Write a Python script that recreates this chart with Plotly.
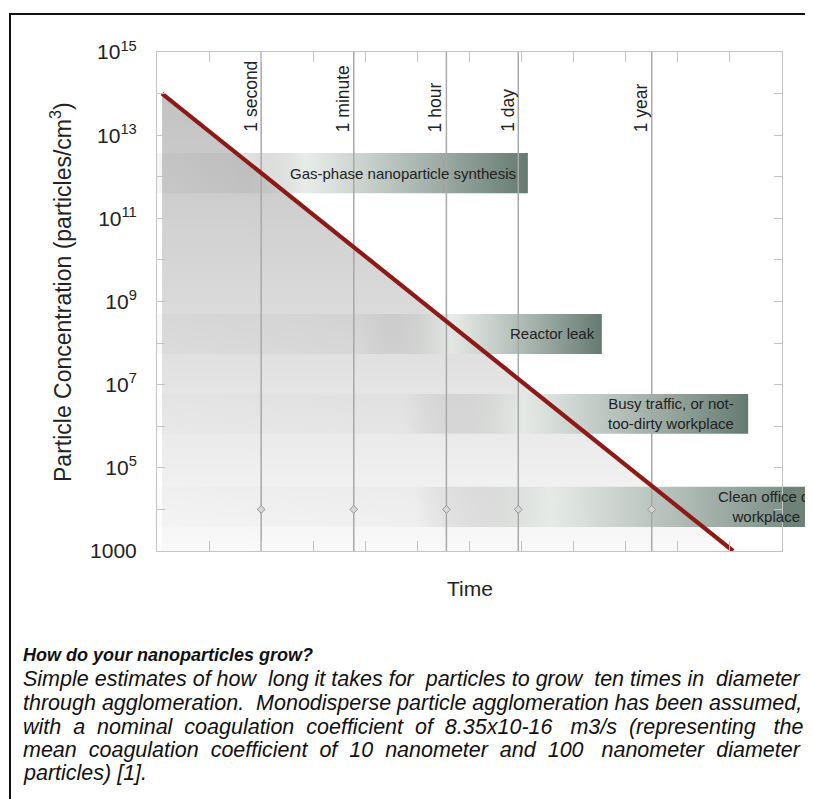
import math
import plotly.graph_objects as go

# ---------------- data ----------------
line_time = [0.0125, 1.15e9]            # seconds
line_conc = [1.0e14, 1.0e3]             # particles / cm3

marker_labels = ["1 second", "1 minute", "1 hour", "1 day", "1 year"]
marker_times = [1, 60, 3600, 86400, 31536000]
marker_dot_conc = 1.0e4

band_labels = [
    "Gas-phase nanoparticle synthesis",
    "Reactor leak",
    "Busy traffic, or not-<br>too-dirty workplace",
    "Clean office or<br>workplace",
]
band_low = [4.0e11, 5.5e7, 6.6e5, 3.8e3]
band_high = [3.7e12, 5.0e8, 6.0e6, 3.5e4]
band_start = [1.0e-2, 1.0e-2, 1.0e-2, 1.0e-2]
band_end = [1.32e5, 3.47e6, 2.24e9, 1.0e11]
band_label_time = [5.4e2, 4.0e5, 7.4e7, 4.9e9]

y_tick_exponents = list(range(3, 16))
y_tick_labels = ["1000", "", "10<sup>5</sup>", "", "10<sup>7</sup>", "", "10<sup>9</sup>", "",
                 "10<sup>11</sup>", "", "10<sup>13</sup>", "", "10<sup>15</sup>"]
x_tick_exponents = list(range(-2, 11))
x_range_exp = [-2, 10]
y_range_exp = [3, 15]

NB = "\u00a0"
caption_title = "How do your nanoparticles grow?"
caption_lines = [
    "Simple estimates of how" + NB + " long it takes for" + NB + " particles to grow" + NB
    + " ten times in" + NB + " diameter",
    "through agglomeration.  Monodisperse particle agglomeration has been assumed,",
    "with" + NB + " a" + NB + " nominal" + NB + " coagulation" + NB + " coefficient" + NB + " of" + NB
    + " 8.35x10-16" + NB + NB + " m3/s" + NB + " (representing" + NB + NB + " the",
    "mean" + NB + " coagulation" + NB + " coefficient" + NB + " of" + NB + " 10" + NB
    + " nanometer" + NB + " and" + NB + " 100" + NB + NB + " nanometer" + NB + " diameter",
    "particles) [1].",
]

# ---------------- styling ----------------
OFF = 8                       # default body margin of the page
W, H = 813 - OFF, 799 - OFF
ML, MR, MT, MB = 157 - OFF, 31, 52 - OFF, 248
PW, PH = W - ML - MR, H - MT - MB
FONT = "Liberation Sans, Arial, sans-serif"
band_light = [0.40, 0.66, 0.62, 0.58]
band_left_alpha = [0.20, 0.12, 0.06, 0.06]


def px_to_paper_x(px):
    return (px - OFF - ML) / PW


def px_to_paper_y(py):
    return (H + OFF - MB - py) / PH


fig = go.Figure()

# shaded triangle under the decay line
fig.add_trace(go.Scatter(
    x=line_time + [line_time[-1], line_time[0], line_time[0]],
    y=line_conc + [10 ** y_range_exp[0], 10 ** y_range_exp[0], line_conc[0]],
    mode="lines", line=dict(width=0), fill="toself",
    fillgradient=dict(type="vertical",
                      colorscale=[[0, "rgb(249,249,249)"], [0.5, "rgb(220,220,220)"],
                                  [1, "rgb(194,194,194)"]]),
    hoverinfo="skip", showlegend=False,
))

# horizontal bands
for i in range(len(band_labels)):
    L = band_light[i]
    a = band_left_alpha[i]
    cs = [[0, "rgba(140,140,140,%.2f)" % (a * 0.4)],
          [max(L - 0.2, 0.01), "rgba(150,150,150,%.2f)" % a],
          [L, "rgba(228,233,229,0.85)"],
          [1, "rgba(100,122,112,1)"]]
    x0, x1 = band_start[i], band_end[i]
    y0, y1 = band_low[i], band_high[i]
    fig.add_trace(go.Scatter(
        x=[x0, x1, x1, x0, x0], y=[y0, y0, y1, y1, y0],
        mode="lines", line=dict(width=0), fill="toself",
        fillgradient=dict(type="horizontal", colorscale=cs),
        hoverinfo="skip", showlegend=False,
    ))

# vertical time markers
for t in marker_times:
    fig.add_trace(go.Scatter(
        x=[t, t], y=[10 ** y_range_exp[0], 10 ** y_range_exp[1]],
        mode="lines", line=dict(color="rgb(168,168,168)", width=1.5),
        hoverinfo="skip", showlegend=False,
    ))
fig.add_trace(go.Scatter(
    x=marker_times, y=[marker_dot_conc] * len(marker_times),
    mode="markers",
    marker=dict(symbol="diamond", size=6, color="rgb(215,215,215)",
                line=dict(color="rgb(150,150,150)", width=1)),
    hoverinfo="skip", showlegend=False,
))

# decay line
fig.add_trace(go.Scatter(
    x=line_time, y=line_conc, mode="lines",
    line=dict(color="rgb(140,26,22)", width=4.2),
    hoverinfo="skip", showlegend=False,
))

annotations = []
for lab, t in zip(marker_labels, marker_times):
    annotations.append(dict(
        x=math.log10(t), y=px_to_paper_y(134), xref="x", yref="paper",
        text=lab, textangle=-90, showarrow=False,
        xanchor="right", yanchor="bottom", xshift=1,
        font=dict(family=FONT, size=17.5, color="#222"),
    ))

for i, lab in enumerate(band_labels):
    yc = 0.5 * (math.log10(band_low[i]) + math.log10(band_high[i]))
    annotations.append(dict(
        x=math.log10(band_label_time[i]), y=yc, xref="x", yref="y",
        text=lab, showarrow=False, xanchor="center", yanchor="middle", align="center",
        font=dict(family=FONT, size=15, color="#222"),
    ))

# axis titles
annotations.append(dict(
    x=px_to_paper_x(61), y=px_to_paper_y(292), xref="paper", yref="paper",
    text="Particle Concentration (particles/cm<sup>3</sup>)", textangle=-90,
    showarrow=False, xanchor="center", yanchor="middle",
    font=dict(family=FONT, size=23, color="#222"),
))
annotations.append(dict(
    x=0.5, y=px_to_paper_y(588), xref="paper", yref="paper",
    text="Time", showarrow=False, xanchor="center", yanchor="middle",
    font=dict(family=FONT, size=21, color="#222"),
))

# caption
cap_y = [655, 679, 703, 727, 750, 773]
annotations.append(dict(
    x=px_to_paper_x(21), y=px_to_paper_y(cap_y[0]), xref="paper", yref="paper",
    text="<b><i>" + caption_title + "</i></b>", showarrow=False,
    xanchor="left", yanchor="middle",
    font=dict(family=FONT, size=18, color="#111"),
))
for k, txt in enumerate(caption_lines):
    annotations.append(dict(
        x=px_to_paper_x(21), y=px_to_paper_y(cap_y[k + 1]), xref="paper", yref="paper",
        text="<i>" + txt + "</i>", showarrow=False,
        xanchor="left", yanchor="middle",
        font=dict(family=FONT, size=21.5, color="#111"),
    ))

shapes = [
    # overflow of the last band beyond the right frame
    dict(type="rect", xref="paper", yref="y", x0=1.0, x1=1.2,
         y0=band_low[3], y1=band_high[3], line=dict(width=0),
         fillcolor="rgb(110,130,120)", layer="below"),
    # outer black border
    dict(type="path", xref="paper", yref="paper",
         path="M {l},{b} L {l},{t} L {r},{t}".format(
             l=px_to_paper_x(10), b=px_to_paper_y(830), t=px_to_paper_y(14), r=px_to_paper_x(840)),
         line=dict(color="#111", width=2)),
]

fig.update_layout(
    width=W, height=H, autosize=False,
    margin=dict(l=ML, r=MR, t=MT, b=MB, pad=0),
    paper_bgcolor="white", plot_bgcolor="white",
    showlegend=False, hovermode=False,
    annotations=annotations, shapes=shapes,
    xaxis=dict(type="log", range=x_range_exp, showgrid=False, zeroline=False,
               tickvals=[10 ** e for e in x_tick_exponents],
               ticktext=["" for _ in x_tick_exponents],
               ticks="inside", ticklen=10, tickwidth=1, tickcolor="rgb(195,195,195)",
               showline=True, linecolor="rgb(195,195,195)", linewidth=1, mirror="ticks"),
    yaxis=dict(type="log", range=y_range_exp, showgrid=False, zeroline=False,
               tickvals=[10 ** e for e in y_tick_exponents], ticktext=y_tick_labels,
               ticks="inside", ticklen=8, tickwidth=1, tickcolor="rgb(195,195,195)",
               showline=True, linecolor="rgb(195,195,195)", linewidth=1, mirror="ticks",
               tickfont=dict(family=FONT, size=21, color="#222"), ticklabelstandoff=15),
)

fig.write_html("out.html")
